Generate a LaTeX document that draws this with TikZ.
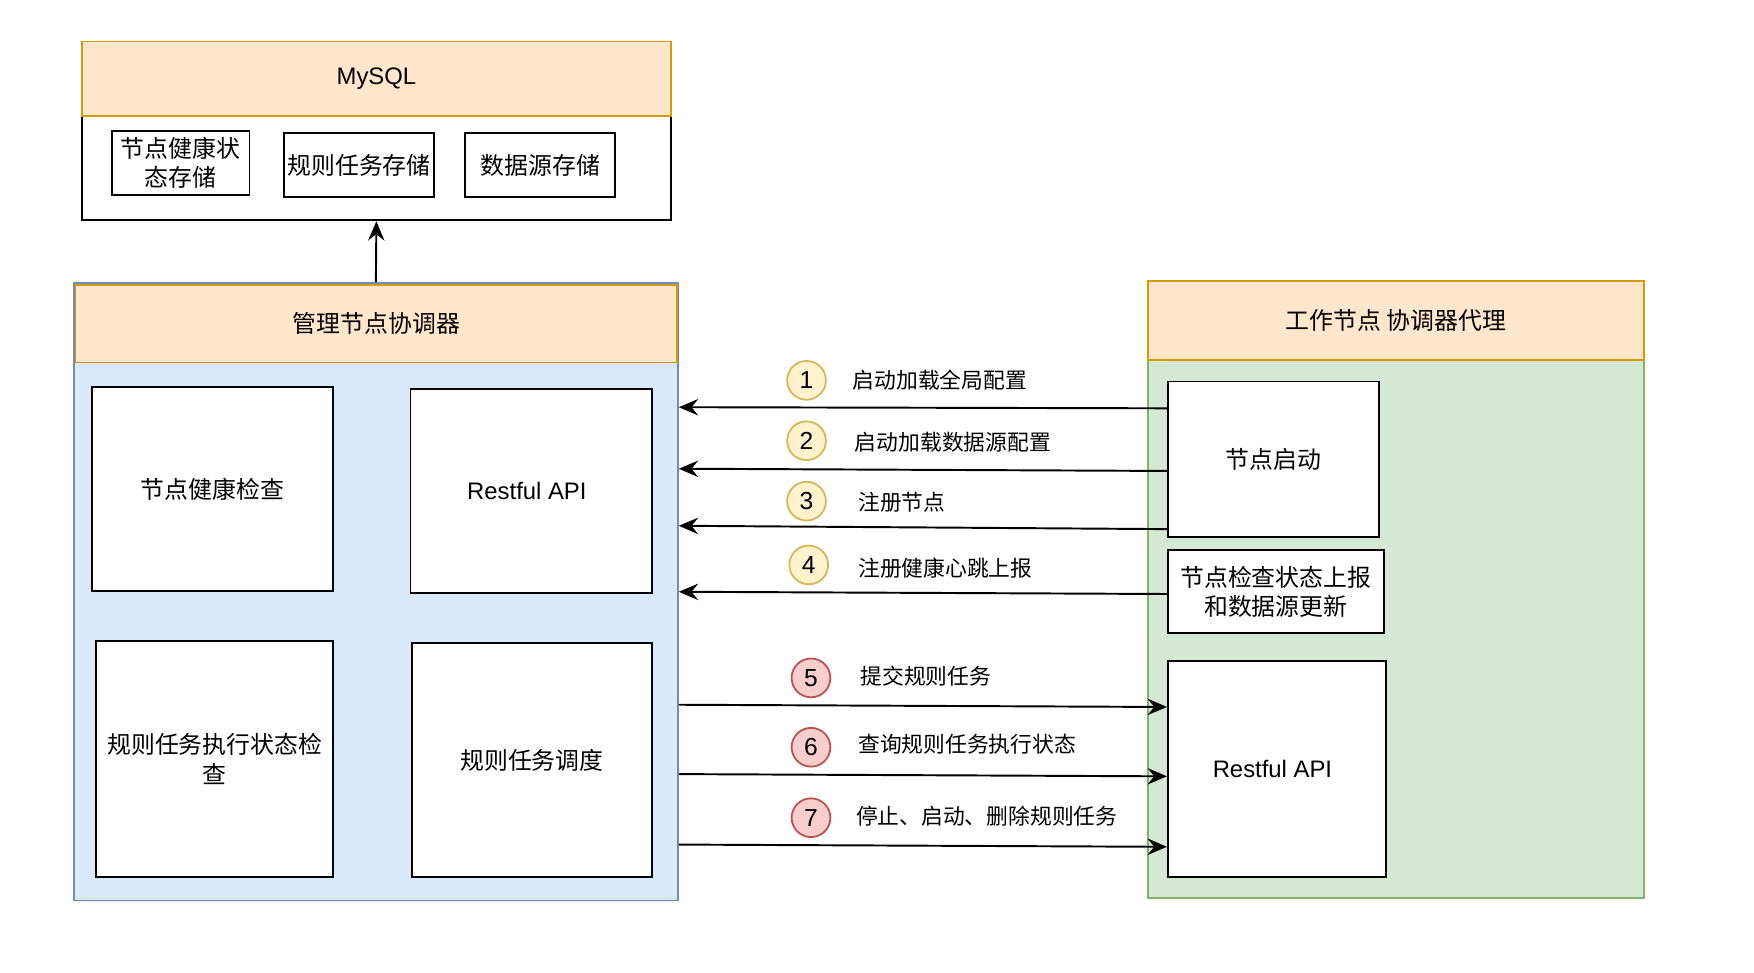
\documentclass[tikz,border=0pt]{standalone}
\usepackage{fontspec}
\setmainfont{Liberation Sans}
\newfontfamily\cjk{Noto Sans CJK SC}
\usetikzlibrary{arrows.meta}
\definecolor{hdrfill}{HTML}{FFE6CC}
\definecolor{hdrline}{HTML}{D79B00}
\definecolor{bluefill}{HTML}{DAE8FC}
\definecolor{blueline}{HTML}{6C8EBF}
\definecolor{greenfill}{HTML}{D5E8D4}
\definecolor{greenline}{HTML}{82B366}
\definecolor{yelfill}{HTML}{FFF2CC}
\definecolor{yelline}{HTML}{D6B656}
\definecolor{pinkfill}{HTML}{F8CECC}
\definecolor{pinkline}{HTML}{B85450}
\tikzset{
  wh/.style 2 args={minimum width=#1*0.75pt, minimum height=#2*0.75pt},
  boxtxt/.style={font=\fontsize{16}{19.5}\selectfont},
  cjkbox/.style={font=\cjk\fontsize{16}{19.5}\selectfont},
  box/.style={draw=black, line width=1.2pt, fill=white, align=center, inner sep=1pt},
  hdr/.style={draw=hdrline, fill=hdrfill, line width=1.2pt, align=center, inner sep=1pt},
  lbl/.style={font=\cjk\fontsize{14.6}{17}\selectfont, anchor=west, inner sep=0pt},
  ycirc/.style={circle, draw=yelline, fill=yelfill, line width=1.2pt, minimum size=26pt, inner sep=0pt, font=\fontsize{16.5}{18}\selectfont},
  pcirc/.style={circle, draw=pinkline, fill=pinkfill, line width=1.2pt, minimum size=26pt, inner sep=0pt, font=\fontsize{16.5}{18}\selectfont},
  arr/.style={line width=1.3pt, -{Stealth[length=13pt,width=11pt,inset=4.5pt]}},
}
\begin{document}
\begin{tikzpicture}[x=0.75pt,y=-0.75pt]
\useasboundingbox (0,0) rectangle (1568,869);
% MySQL
\node[box, wh={527}{160}] (mysql) at (336.5,117) {};
\node[hdr, wh={527}{67}, boxtxt] (mysqlh) at (336.5,70.5) {MySQL};
\node[box, wh={123}{57}, cjkbox] (s1) at (161.5,145.5) {节点健康状\\态存储};
\node[box, wh={134}{57}, cjkbox] (s2) at (321,147.5) {规则任务存储};
\node[box, wh={134}{57}, cjkbox] (s3) at (483,147.5) {数据源存储};
% Manager
\node[draw=blueline, fill=bluefill, line width=1.2pt, wh={540}{552}] (mgr) at (336,529) {};
\node[hdr, wh={538}{69}, cjkbox] (mgrh) at (336.5,289.5) {管理节点协调器};
\node[box, wh={216}{182}, cjkbox] (m1) at (190,437) {节点健康检查};
\node[box, wh={216}{182}, boxtxt, text depth=0pt] (m2) at (475,439) {\hspace*{-6pt}Restful API};
\node[box, wh={212}{211}, cjkbox] (m3) at (192,678.5) {规则任务执行状态检\\查};
\node[box, wh={215}{209}, cjkbox] (m4) at (475.5,679.5) {规则任务调度};
% Worker
\node[draw=greenline, fill=greenfill, line width=1.2pt, wh={444}{552}] (wk) at (1248,527) {};
\node[hdr, wh={444}{71}, cjkbox] (wkh) at (1248,286.5) {工作节点 协调器代理};
\node[box, wh={189}{139}, cjkbox] (w1) at (1138.5,410.5) {节点启动};
\node[box, wh={193}{74}, cjkbox] (w2) at (1140.5,529) {节点检查状态上报\\和数据源更新};
\node[box, wh={195}{193}, boxtxt, text depth=0pt] (w3) at (1141.5,687.5) {\hspace*{-6pt}Restful API};
% arrow to mysql
\draw[arr] (mgr.north) -- (mysql.south);
% left arrows
\draw[arr] (w1.west |- 0,365) -- (mgr.east |- 0,364);
\draw[arr] (w1.west |- 0,421) -- (mgr.east |- 0,419);
\draw[arr] (w1.west |- 0,473) -- (mgr.east |- 0,470);
\draw[arr] (w2.west |- 0,531) -- (mgr.east |- 0,529);
% right arrows
\draw[arr] (mgr.east |- 0,630) -- (w3.west |- 0,632);
\draw[arr] (mgr.east |- 0,692) -- (w3.west |- 0,694);
\draw[arr] (mgr.east |- 0,755) -- (w3.west |- 0,757);
% circles and labels
\node[ycirc] (c1) at (721,340) {1};
\node[ycirc] (c2) at (721,394) {2};
\node[ycirc] (c3) at (721,448) {3};
\node[ycirc] (c4) at (723,505) {4};
\node[pcirc] (c5) at (725,606) {5};
\node[pcirc] (c6) at (725,668) {6};
\node[pcirc] (c7) at (725,731) {7};
\node[lbl] (l1) at (762,340) {启动加载全局配置};
\node[lbl] (l2) at (764,395) {启动加载数据源配置};
\node[lbl] (l3) at (767,449) {注册节点};
\node[lbl] (l4) at (767,508) {注册健康心跳上报};
\node[lbl] (l5) at (769,604) {提交规则任务};
\node[lbl] (l6) at (767,665) {查询规则任务执行状态};
\node[lbl] (l7) at (765,730) {停止、启动、删除规则任务};
\end{tikzpicture}
\end{document}
